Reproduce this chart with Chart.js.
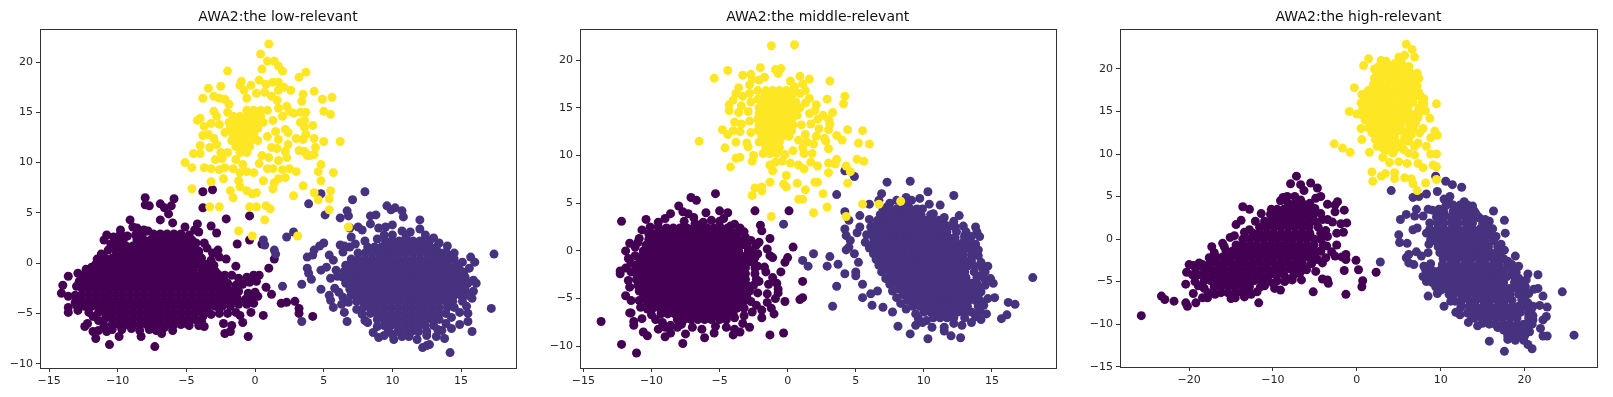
<!DOCTYPE html>
<html>
<head>
<meta charset="utf-8">
<title>AWA2</title>
<script src="https://cdn.jsdelivr.net/npm/chart.js@4/dist/chart.umd.min.js"></script>
<style>
  html, body { margin: 0; padding: 0; background: #fff; }
  .panel { position: absolute; top: 0; height: 397px; }
  canvas { filter: blur(0.35px); }
</style>
</head>
<body>
<div class="panel" style="left:0;width:530px"><canvas id="lowChart"></canvas></div>
<div class="panel" style="left:530px;width:530px"><canvas id="middleChart"></canvas></div>
<div class="panel" style="left:1060px;width:553px"><canvas id="highChart"></canvas></div>
<script>
const classColors = ["#fde725", "#46327e", "#440154"];

const lowXTicks = [-15, -10, -5, 0, 5, 10, 15];
const lowYTicks = [-10, -5, 0, 5, 10, 15, 20];
const middleXTicks = [-15, -10, -5, 0, 5, 10, 15];
const middleYTicks = [-10, -5, 0, 5, 10, 15, 20];
const highXTicks = [-20, -10, 0, 10, 20];
const highYTicks = [-15, -10, -5, 0, 5, 10, 15, 20];

// values are read off the picture. the solid blobs can't be told apart point by point,
// so those are estimated as rows: [y, x, x, x, ...]

// ---- low-relevant
const lowYellow = [[1,21.8],[.4,20.8],[.9,20.1],[1.4,20.1],[1.7,19.6],[2,19.1],[.5,19.3],[-2,19.1],[3.7,19],[3.2,18.5],[-3.4,17.4],[-2.5,17.6],[-3.8,16.4],[5.6,16.5],[4.3,17.1],[4.9,16.3],[5.5,14.8],[5,15.1],[-4.2,14.2],[-4,14.4],[-3.7,13.6],[-3.8,12.7],[-4,11.7],[-4.5,10.9],[-4,10.9],[-5.1,10],[-4.6,9.5],[6.2,12.1],[5,12.1],[4.8,9.8],[5.7,9],[4.6,9.1],[4.8,8.2],[3.5,7.7],[3,9.1],[5.5,7.2],[4.3,7],[2.8,6.7],[4.6,6.3],[5.4,6.4],[5.4,5.3],[-4.6,7.4],[-3.2,8.1],[-1.8,7.2],[-1.6,6.5],[-3.3,5.6],[-2.6,5.6],[-.4,5.6],[.1,5.6],[.8,5.7],[1.1,5.4],[.7,4.3],[-1.2,3.2],[-.2,2.7],[3.1,2.7],[6.8,3.6],
[-3,16.6],[-2.6,16.4],[-2.2,16.3],[-1.9,15.8],[-3,15.1],[-2.8,14.6],[-3.2,13.9],[-2.6,13.8],[-3.4,12.8],[-3,12.4],[-2.8,11.8],[-3.3,11.5],[-2.5,11],[-2.9,10.3],[-2.4,10.4],[-3.7,9.5],[-3.2,9.4],[-2.6,9.3],[-2.2,9.5],[-2.3,8.4],[-1.6,9.4],[-1.1,9],[-1.2,8.2],[-1.1,7.6],[-.6,7.2],[-.2,6.9],[.1,7],[-.6,9.1],[-.1,9],[.3,9.9],[.6,8.2],[.9,9.4],[1.3,9.4],[1.3,7.4],[1.4,8],[1.7,8.4],[2.2,8.5],[2,9.3],[2.5,9.4],[1.7,10.2],[2.3,10.5],[2.2,11.1],[1.6,11.4],[2.4,11.8],[3,12.4],[3.5,12.3],[3.2,11.2],[3.6,11.1],[3.8,10.7],[4,10.7],[4.3,10.8],[4.4,11.5],[4.3,12.4],[3.7,12.8],[4.2,13.7],[3.6,13.5],[3.3,14],[2.8,14.9],[3.3,15],[3.7,15],[3.6,14.2],[2.5,15.1],[2.3,15.6],[3.4,16.1],[3.5,16.8],[2.6,17.2],[2.1,17.5],[1.7,17.2],[1.7,18],[1.3,18],[.8,17.8],[.3,18.2],[-.3,17.7],[-.8,17.2],[-1.1,17.7],[-1,18.1],[.1,16.9],[.7,17],[1.2,16.6],[1.6,16.2],[-.6,16.4],[2,14.6],[2.2,13.3],[1.5,13.1],[1.7,12.3],[2.4,13],[-2,15],[-2.2,13],[-1.7,12.2],[-2,11],[-1.4,10.3],[-.9,9.8],[.5,10.7],[1,10.5],[1.2,11.5],[.9,12.6],[1.3,14.2],[1.7,15.4]];
const lowYellowRows = [
  [15.2, -.6,-.1,.4,.9],
  [14.6, -1.6,-1.1,-.6,-.1,.4],
  [14, -1.9,-1.4,-.9,-.4,.1,.6],
  [13.4, -1.8,-1.3,-.8,-.3,.2],
  [12.8, -1.6,-1.1,-.6,-.1],
  [12.2, -1.3,-.8,-.3,.2],
  [11.6, -1.4,-.9,-.4],
  [11, -1.1,-.6]
];
const lowBlue = [[17.4,.9],[17.2,-4.5],[14.2,-8.9],[12.2,-8.4],[12.5,-8.2],[12.7,-8.1],[15.8,-6.8],[15.5,-5.8],[15.5,-5],[14.9,-6.1],[16.1,-2],[15.9,-1.7],[16,.1],[15.7,.6],[14.5,1],[13.9,1.1],[13.4,2],[12.7,2.2],[12,3.4],[12,4.3],[10.8,4.6],[10.7,5.2],[10.2,5.5],[9.9,5.3],[9.6,5.7],[8.8,4.8],[8.4,4.7],[8.4,3.9],[8,7.1],[7.1,6.3],[6.7,5.2],[6.8,4.7],[6.2,4.5],[4.8,6.9],[3.9,5.9],[5.1,4.8],[6.9,3.5],[7.5,3.6],[7.8,3.3],[7,2.6],[9,3.5],[9.5,3.6],[10,3.8],[10.7,3.2],[11.3,3.1],[6.2,1.8],[6.5,1.7],[5,2],[4.7,1.7],[4.3,1.3],[4.2,.8],[3.8,.6],[5.4,.8],[5.7,.3],[5.2,-.4],[4.8,-.7],[3.8,-.5],[3.9,-1],[4.1,-1.6],[3.4,-2.1],[4.8,-2.6],[5.5,-1.5],[5.8,-2.5],[5.4,-3.2],[5.5,-3.7],[5.7,-4.4],[6.3,-4.1],[6.5,-4.9],[6.7,-5.8],[8,-5.7],[8.6,-6.9],[9,-7.4],[9.4,-7.2],[10.1,-7.6],[11.2,-7.3],[13.2,-7.3],[13.8,-7.5],[2,-2.3],[3.4,-5.8],[2.3,2.6],[2.8,3.1],[.6,2.3],[.7,1.8],[1.4,1.3],[1.5,.9],[14.8,-.5],[15.2,-.9],[14.3,-6.5],[13.6,-6.7],[11.8,-7.6],
[6.4,1.1],[6.9,1.6],[8,2.2],[8.9,2.4],[7.3,1.9],[5.9,-.7],[6,-1.3],[6.1,-2.9],[6.4,-3.4],[6.8,-3.9],[7.4,-4.6],[7.8,-5.1],[8.2,-5.9],[8.9,-6.3],[9.7,-6.7],[10,-7.1],[10.7,-7.3],[12.5,-7.2],[13.3,-6.6],[13.9,-6],[14.3,-5.4],[14.9,-4.9],[15.4,-4.3],[15.8,-3.5],[15.9,-2.8],[15.6,-.5],[15.1,.1],[14.4,.6],[14,1.7],[13,2.5],[12.4,2.8],[11,2.7],[10,2.8],[9.4,2.8]];
const lowBlueRows = [
  [2.2, 9.5,10,10.5,11,11.5,12,12.5],
  [1.6, 8.2,8.7,9.2,9.7,10.2,10.7,11.2,11.7,12.2,12.7,13.2],
  [1, 7.5,8,8.5,9,9.5,10,10.5,11,11.5,12,12.5,13,13.5,13.9],
  [.4, 7,7.5,8,8.5,9,9.5,10,10.5,11,11.5,12,12.5,13,13.5,14,14.5],
  [-.2, 6.6,7.1,7.6,8.1,8.6,9.1,9.6,10.1,10.6,11.1,11.6,12.1,12.6,13.1,13.6,14.1,14.7],
  [-.8, 6.5,7,7.5,8,8.5,9,9.5,10,10.5,11,11.5,12,12.5,13,13.5,14,14.5,15],
  [-1.4, 6.4,6.9,7.4,7.9,8.4,8.9,9.4,9.9,10.4,10.9,11.4,11.9,12.4,12.9,13.4,13.9,14.4,14.9,15.3],
  [-2, 6.6,7.1,7.6,8.1,8.6,9.1,9.6,10.1,10.6,11.1,11.6,12.1,12.6,13.1,13.6,14.1,14.6,15.1,15.5],
  [-2.6, 6.9,7.4,7.9,8.4,8.9,9.4,9.9,10.4,10.9,11.4,11.9,12.4,12.9,13.4,13.9,14.4,14.9,15.3],
  [-3.2, 7,7.5,8,8.5,9,9.5,10,10.5,11,11.5,12,12.5,13,13.5,14,14.5,15,15.5],
  [-3.8, 7.4,7.9,8.4,8.9,9.4,9.9,10.4,10.9,11.4,11.9,12.4,12.9,13.4,13.9,14.4,15.1],
  [-4.4, 7.9,8.4,8.9,9.4,9.9,10.4,10.9,11.4,11.9,12.4,12.9,13.4,14,14.5],
  [-5, 8.4,8.9,9.4,9.9,10.4,10.9,11.4,11.9,12.4,12.9,13.4,13.9],
  [-5.6, 8.9,9.4,9.9,10.4,10.9,11.4,11.9,12.4,12.9,13.4],
  [-6.2, 9.4,9.9,10.4,10.9,11.4,11.9,12.4,13],
  [-6.8, 10.4,10.9,11.4,11.9,12.5]
];
const lowDark = [[-8,6.5],[-8,5.8],[-7.7,5.7],[-6.9,5.9],[-6.6,5.5],[-6.1,5.7],[-5.9,6.4],[-6.3,4.9],[-6.9,4.3],[-6,4],[-9.1,4.3],[-3.8,7.1],[-3.1,7.3],[-3.8,5.5],[-2.1,4.4],[-.4,4.7],[-3.2,3.7],[-4.2,3.9],[-2.8,3],[-.4,2.3],[-1.3,1.9],[.5,1.9],[1.4,.4],[1,-.5],[-2.1,.4],[-1.4,-.3],[.8,-2.4],[1.2,-3.1],[1.9,-4],[2.3,-3.9],[2.9,-3.8],[3.2,-4.5],[3.2,-5],[4.2,-5.3],[.6,-5.2],[-.3,-4.9],[-.9,-5.9],[-.5,-7.3],[-1.7,-6.2],[-2.2,-7],[-1.8,-6.8],[-2.3,-6],[-3.7,-6.3],[-4.1,-6.2],[-7.3,-8.3],[-10.6,-8.1],[-11.6,-7.5],[-9.9,-7.3],[-8.3,-7.3],[-6.8,-7],[-6,-6.7],[-10.8,-6.8],[-11.4,-6.7],[-11.8,-6.8],[-12.4,-6.3],[-12.2,-6],[-13.6,-4.9],[-13.6,-4.4],[-13,-4.2],[-14.1,-3],[-14,-2.2],[-13,-2.3],[-13.6,-1.3],[-12.9,-1],[-13.6,-3.3],[-13.1,-3.2],[-11.5,.4],[-11.9,-.4],[-11,2.3],[-10.8,2.8],[-10.3,2.6],[-9.8,3.3],[-9.8,2.9],[-8.9,3.6],[-8.1,3.3],[-8.6,3.5],[-5.1,3.6],[-4.4,3.3],[-4.1,3.1],[-3.7,2],[-4.3,2],[-3.1,1],[-2.7,1.3],
[-2.7,-1.1],[-2.2,-1.2],[-1.7,-1.2],[-1.2,-1.5],[-.6,-1.4],[-.1,-1.2],[.3,-1.2],[-2.6,-1.9],[-2,-2],[-1.4,-2.2],[-.9,-2.1],[-.4,-1.9],[.1,-1.8],[-2.3,-2.7],[-1.7,-2.8],[-1.2,-2.8],[-.5,-3],[0,-2.9],[-2.5,-3.4],[-2,-3.5],[-1.3,-3.5],[-.7,-3.6],[-.2,-3.4],[.2,-3.3],[-2.4,-4.2],[-1.8,-4.3],[-1.2,-4.1],[-.6,-4.1],[-.1,-4],[-2.6,-5],[-2,-5],[-1.4,-4.9],[-1.1,-5.2],[-3.2,-5.1],[-3.8,-5.3],[-4.4,-5.6],
[-10.7,1.3],[-11.2,.9],[-10.5,1.9],[-9.3,2.7],[-8.7,2.8],[-8.2,2.9],[-7.8,3.2],[-4.8,2.8],[-4.1,1.2],[-3.5,1.5],[-3.2,.3],[-3,-.2],[-2.6,.6],[-2.9,-.8],[-12.3,-.6],[-12.5,-1.2],[-12.8,-1.8],[-13.1,-3.9],[-12.9,-4.7],[-12.1,-4.9],[-11.8,-5.3],[-11.4,-5.7],[-11,-6.2],[-10.4,-6.6],[-9.7,-6.6],[-9,-6.5],[-8.4,-6.7],[-7.7,-6.6],[-7.2,-6.7],[-6.6,-6.4],[-5,-6],[-4.8,-6.2],[-3.9,-5.8]];
const lowDarkRows = [
  [2.9, -7.4,-6.9,-6.4,-5.9,-5.4],
  [2.3, -10.1,-9.6,-8.6,-8.1,-7.6,-7.1,-6.6,-6.1,-5.6,-5.1,-4.6],
  [1.7, -10.4,-9.9,-9.4,-8.9,-8.4,-7.9,-7.4,-6.9,-6.4,-5.9,-5.4,-4.9,-4.4],
  [1.1, -10.1,-9.6,-9.1,-8.6,-8.1,-7.6,-7.1,-6.6,-6.1,-5.6,-5.1,-4.6,-4.1],
  [.5, -10.9,-10.4,-9.9,-9.4,-8.9,-8.4,-7.9,-7.4,-6.9,-6.4,-5.9,-5.4,-4.9,-4.4,-3.9],
  [-.1, -11.6,-11.1,-10.6,-10.1,-9.6,-9.1,-8.6,-8.1,-7.6,-7.1,-6.6,-6.1,-5.6,-5.1,-4.6,-4.1,-3.6],
  [-.7, -12,-11.5,-11,-10.5,-10,-9.5,-9,-8.5,-8,-7.5,-7,-6.5,-6,-5.5,-5,-4.5,-3.9,-3.4],
  [-1.3, -12.1,-11.6,-11.1,-10.6,-10.1,-9.6,-9.1,-8.6,-8.1,-7.6,-7.1,-6.6,-6.1,-5.6,-5.1,-4.6,-4.1,-3.6,-3.2,-2.9],
  [-1.9, -12.4,-11.9,-11.4,-10.9,-10.4,-9.9,-9.4,-8.9,-8.4,-7.9,-7.4,-6.9,-6.4,-5.9,-5.4,-4.9,-4.4,-3.9,-3.4,-2.9,-2.4],
  [-2.5, -12.6,-12.1,-11.6,-11.1,-10.6,-10.1,-9.6,-9.1,-8.6,-8.1,-7.6,-7.1,-6.6,-6.1,-5.6,-5.1,-4.6,-4.1,-3.6,-3.1,-2.6,-2],
  [-3.1, -12.6,-12.1,-11.6,-11.1,-10.6,-10.1,-9.6,-9.1,-8.6,-8.1,-7.6,-7.1,-6.6,-6.1,-5.6,-5.1,-4.6,-4.1,-3.6,-3.1,-2.6,-2.1,-1.6],
  [-3.7, -12.6,-12.1,-11.6,-11.1,-10.6,-10.1,-9.6,-9.1,-8.6,-8.1,-7.6,-7.1,-6.6,-6.1,-5.6,-5.1,-4.6,-4.1,-3.6,-3.1,-2.6,-2.1,-1.6],
  [-4.3, -12.4,-11.9,-11.4,-10.9,-10.4,-9.9,-9.4,-8.9,-8.4,-7.9,-7.4,-6.9,-6.4,-5.9,-5.4,-4.9,-4.4,-3.9,-3.4,-2.9,-2.4],
  [-4.9, -11.4,-10.9,-10.4,-9.9,-9.4,-8.9,-8.4,-7.9,-7.4,-6.9,-6.4,-5.9,-5.4,-4.9,-4.4,-3.9,-3.4],
  [-5.5, -10.9,-10.4,-9.9,-9.4,-8.9,-8.4,-7.9,-7.4,-6.9,-6.4,-5.9,-5.4,-4.9,-4.4],
  [-6.1, -10.4,-9.9,-9.4,-8.9,-8.4,-7.9,-7.4,-6.9,-6.4,-5.9,-5.4]
];

// ---- middle-relevant
const middleYellow = [[-1.2,21.5],[.5,21.6],[-4.4,18.9],[-5.4,18.1],[-3.3,18.4],[-2.7,18.5],[-2,19.2],[-.9,19],[-.5,19.1],[-.7,18.6],[.9,18.3],[1.6,18],[3.1,17.8],[2.9,15.9],[4.2,16.2],[4.1,15.4],[3.3,14.5],[2.1,15.3],[4.4,12.7],[5.5,12.6],[5.2,11.3],[6,11.2],[4,11.6],[3.6,12.1],[5.1,9.6],[5.6,9.4],[3.6,9.6],[3.5,9.1],[3,9.2],[3,8.2],[4.3,8.9],[4.6,8.3],[4.4,7.1],[-6.5,11.5],[-4.8,12.7],[-4.6,10.8],[-4.4,12.2],[-4.2,8.8],[-3.8,9.7],[-3.5,9.8],[-3.8,11.4],[-2.6,9.4],[-2.5,10],[-2.4,6.6],[-1.9,6.7],[-2.6,5.8],[-1.9,6.3],[-1.3,7.2],[-.3,7],[-.1,6.7],[-.1,7.9],[.7,7.1],[2,7.2],[2.2,7.2],[1.3,6.4],[2.6,6],[.8,5.4],[1.1,5.4],[1.9,4],[2.9,4.6],[-1.2,3.6],[5.5,4.9],[6.7,4.9],[4.3,3.6],[8.3,5.2],
[-3.8,16.5],[-4,15.8],[-4.3,15.3],[-4.3,14.7],[-3.6,17.1],[-3.3,16.2],[-3.4,15.2],[-3.6,14.5],[-3.9,13.5],[-3.4,13.3],[-4,12.6],[-3.5,12.5],[-2.8,17.4],[-2.8,16.5],[-2.7,15.6],[-2.9,14.6],[-2.8,13.6],[-2.7,12.4],[-3,11.3],[-2.9,10.9],[-2.6,18],[-2.1,17.9],[-1.7,18.2],[-2.2,16.8],[-2.2,15.9],[.2,17.8],[.5,17.2],[1.1,17.5],[1.3,16.8],[.9,16.5],[1.6,16],[1.3,15.5],[2,14.7],[2.6,14.2],[3,13.8],[3.1,13.3],[2.2,13.8],[1.7,13.3],[2.3,12.8],[3,12.7],[1.3,12.2],[2.1,12],[2.7,11.8],[3,10.7],[2.8,11.5],[1.9,11.2],[1.4,11.4],[1.1,10.8],[1.8,10.2],[1.2,10.2],[1.7,9.3],[2.2,8.9],[1.2,8.6],[.8,9],[.2,9.2],[-.4,9.4],[-.9,9.3],[-1.3,9],[-1.1,8.4],[-.2,10.1],[.4,10.5],[.8,11.6],[1,13.2],[1.6,14.4],[.7,14.2],[.9,15]];
const middleYellowRows = [
  [16.8, -1.6,-1.1,-.6,-.1,.4],
  [16.2, -1.7,-1.2,-.7,-.2,.3],
  [15.6, -1.9,-1.4,-.9,-.4,.1,.6],
  [15, -2.1,-1.6,-1.1,-.6,-.1,.4],
  [14.4, -2.1,-1.6,-1.1,-.6,-.1,.4],
  [13.8, -2.2,-1.7,-1.2,-.7,-.2,.3],
  [13.2, -2.1,-1.6,-1.1,-.6,-.1,.4],
  [12.6, -2.2,-1.7,-1.2,-.7,-.2,.3],
  [12, -1.9,-1.4,-.9,-.4,.1],
  [11.4, -2.1,-1.6,-1.1,-.6],
  [10.8, -1.6,-1.1,-.6],
  [10.2, -1.8,-1.3,-.8]
];
const middleBlue = [[18,-2.8],[16.7,-5.6],[16.2,-5.4],[16.1,-6.7],[15.7,-7.1],[15.2,-4.9],[15.1,-3.4],[14.7,-1.6],[14.9,-2.9],[14.2,-2.6],[12.7,-9.1],[12,-8.9],[11.5,-8.4],[10.3,-9.2],[9,-8.7],[8.1,-7.9],[7.7,-6.4],[7,-5.9],[6.2,-5.7],[5.5,-4.9],[3.3,-5.8],[3.6,-3.7],[4.2,-2.4],[3.7,-1.4],[2.9,-1.6],[3.1,-.6],[1.5,-1.6],[1.1,-1],[1.9,-.3],[-.3,2.8],[3.6,5.9],[4.2,8.4],[4.9,7.8],[7.3,7.2],[9,7.3],[10.3,6.2],[12.2,5.8],[6.9,6],[6.7,5.3],[6,4.9],[4.2,4.1],[4.5,3.2],[5.3,3.7],[5.3,2.5],[5.1,1.9],[4.2,2.3],[4.3,1.6],[4.6,1.1],[4.5,.4],[4.3,.1],[4.9,-.3],[5.2,-1.2],[5,-2.2],[5,-2.6],[5.5,-3.5],[6.1,-4.5],[6.6,-4.2],[7.3,4.6],[8,5.3],[8.7,5.6],[9.1,5.3],[9.7,5.5],[10.4,4.9],[11.2,4.8],[10.7,3.9],[11.5,3.5],[12.6,3.7],[12.3,2.5],[13.1,2],[13.8,2.5],[13.9,2],[14.1,1.5],[13.3,1.1],[13.8,.7],[14.5,-3.6],[14.2,-4.3],[14.7,-5],[14.4,-5.7],[14.1,-6.3],[14.6,-6.6],[13.8,-6.9],[14.2,-7.2],[13.5,-7.5],[12.8,-7.8],[12.2,-7.6],[11.5,-8],[10.6,-8],[9.9,-7.5],[9.4,-7.8],
[7.5,5],[8.8,4.9],[9.4,4.3],[9.9,4.4],[10.6,3.3],[11.5,2.8],[12.2,3.1],[12.9,2.6],[13,1.6],[13.5,1.5],[14,.1],[14,-.5],[14.2,-1.2],[14.3,-1.8],[14.5,-2.2],[14.5,-3],[6,3.3],[6.1,2.5],[5.8,1.7],[5.7,.9],[6,.3],[6.3,-.3],[6.5,-.9],[6.7,-1.5],[6.9,-2.2],[7.2,-2.9],[7.5,-3.5],[7.7,-4.2],[8,-4.9],[8.3,-5.5],[8.7,-6.1],[9.4,-6.6],[9.6,-7.1],[10.2,-7.3]];
const middleBlueRows = [
  [4.4, 7,7.5,8,8.5,9,9.5],
  [3.8, 6.8,7.3,7.8,8.3,8.8,9.3,9.8,10.5],
  [3.2, 6.6,7.1,7.6,8.1,8.6,9.1,9.6,10.1,10.6,11.1],
  [2.6, 6.4,6.9,7.4,7.9,8.4,8.9,9.4,9.9,10.4,10.9,11.4,11.9],
  [2, 6.2,6.7,7.2,7.7,8.2,8.7,9.2,9.7,10.2,10.7,11.2,11.7,12.4],
  [1.4, 6.3,6.8,7.3,7.8,8.3,8.8,9.3,9.8,10.3,10.8,11.3,11.8,12.3,13],
  [.8, 6.3,6.8,7.3,7.8,8.3,8.8,9.3,9.8,10.3,10.8,11.3,11.8,12.3,12.8,13.3],
  [.2, 6.5,7,7.5,8,8.5,9,9.5,10,10.5,11,11.5,12,12.5,13,13.5],
  [-.4, 6.9,7.4,7.9,8.4,8.9,9.4,9.9,10.4,10.9,11.4,11.9,12.4,12.9,13.5],
  [-1, 7,7.5,8,8.5,9,9.5,10,10.5,11,11.5,12,12.5,13,13.5],
  [-1.6, 7.2,7.7,8.2,8.7,9.2,9.7,10.2,10.7,11.2,11.7,12.2,12.7,13.2,13.7],
  [-2.2, 7.5,8,8.5,9,9.5,10,10.5,11,11.5,12,12.5,13,13.7],
  [-2.8, 7.6,8.1,8.6,9.1,9.6,10.1,10.6,11.1,11.6,12.1,12.6,13.1,13.9],
  [-3.4, 8,8.5,9,9.5,10,10.5,11,11.5,12,12.5,13,13.5,13.9],
  [-4, 8.2,8.7,9.2,9.7,10.2,10.7,11.2,11.7,12.2,12.7,13.2,13.7,14],
  [-4.6, 8.5,9,9.5,10,10.5,11,11.5,12,12.5,13,13.5,14],
  [-5.2, 8.8,9.3,9.8,10.3,10.8,11.3,11.8,12.3,12.8,13.3,13.8,14.1],
  [-5.8, 9.2,9.7,10.2,10.7,11.2,11.7,12.2,12.7,13.2,14],
  [-6.4, 10,10.5,11,11.5,12,12.5,13,13.5],
  [-7, 10.7,11.2,11.7,12.2,13]
];
const middleDark = [[-7.1,5.6],[-6.7,5.3],[-5.3,6],[-8,4.7],[-7.7,4.1],[-7.3,3.9],[-6.9,3.5],[-6,4],[-5,4.2],[-4.4,4],[-4.7,3.4],[-3.9,2.8],[-3.5,2.4],[-2.4,4.2],[.1,4.2],[-2,2.7],[-1.9,2.1],[-3.1,1.4],[-2.3,.6],[-2.1,.9],[-1.3,1.3],[-1.5,.2],[-1.3,-.5],[-1.1,-.7],[.4,.4],[0,-.7],[-.2,-1.2],[-.5,-2.2],[-1.7,-1.7],[-2.2,-.3],[1.1,-3.2],[.9,-5.1],[1.1,-4.9],[-.2,-5.3],[-.7,-4.4],[-1,-6.6],[-1.9,-7],[-2.8,-8],[-3.5,-8.5],[-4,-8.8],[-1.3,-8.8],[-.3,-8.6],[-6.1,-9.1],[-5.4,-8.6],[-7.5,-8.7],[-7.7,-9.7],[-9,-9],[-8.6,-8.6],[-10.3,-8.9],[-10.6,-8.5],[-11.1,-10.7],[-12.2,-9.8],[-13.7,-7.4],[-11.3,-7.8],[-11.3,-7.4],[-11.6,-6.5],[-10.7,-7.1],[-9.5,-8.2],[-12.2,3.1],[-10.4,3.3],[-9.5,3],[-9,3.4],[-8.6,3.9],[-11.6,.8],[-11.9,0],[-11.2,.4],[-11.7,-.8],[-12.3,-2.1],[-12.3,-2.4],[-11.5,-2.2],[-11.9,-4.7],[-11.5,-5.2],[-11.5,-6.5],
[-2.2,-1.6],[-1.6,-2.2],[-1.1,-2.8],[-.8,-3.4],[-1.4,-3.5],[-2.1,-3.2],[-.7,-4],[-1.5,-4.5],[-2.2,-4.4],[-.9,-5],[-1.5,-5.4],[-2.3,-5.7],[-1.2,-6],[-1.9,-6.2],[-2.6,-6.4],[-3.2,-6.8],[-3.9,-7],[-4.5,-8],[-3.3,-7.6],[-3.9,-8.2],[-5.3,-7.9],[-6.3,-8.2],[-7,-8],[-8.1,-8],[-9,-8],
[-10.9,1.3],[-10.7,2.2],[-10.1,2.5],[-9.5,2.5],[-11,.9],[-11.2,-.5],[-11.5,-1.3],[-11.9,-1.8],[-11.7,-3.1],[-11.6,-3.8],[-10.9,-5.2],[-10.8,-5.9],[-10.3,-6.1],[-10,-6.7],[-9.7,-7.2],[-9.2,-7.5],[-8.6,-7.8],[-7.8,-7.7],[-4.5,-7.2],[-4,-6.6],[-3.2,-6],[-2.7,-5.3],[-3.9,-5.8],[-3.2,2],[-3.8,1.9],[-2.7,1.1],[-2.6,.1],[-2.4,-.7],[-4.2,2.6],[-5,3.1],[-5.6,3.2],[-6.2,3],[-6.8,2.9],[-7.6,3.1]];
const middleDarkRows = [
  [2.4, -8.9,-8.4,-7.9,-7.4,-6.9,-6.4,-5.9,-5.4,-4.9,-4.4],
  [1.8, -10.2,-9.7,-9.2,-8.7,-8.2,-7.7,-7.2,-6.7,-6.2,-5.7,-5.2,-4.7,-4.2,-3.7],
  [1.2, -10.2,-9.7,-9.2,-8.7,-8.2,-7.7,-7.2,-6.7,-6.2,-5.7,-5.2,-4.7,-4.2,-3.7,-3.2],
  [.6, -10.4,-9.9,-9.4,-8.9,-8.4,-7.9,-7.4,-6.9,-6.4,-5.9,-5.4,-4.9,-4.4,-3.9,-3.4,-3],
  [0, -10.6,-10.1,-9.6,-9.1,-8.6,-8.1,-7.6,-7.1,-6.6,-6.1,-5.6,-5.1,-4.6,-4.1,-3.6,-2.9],
  [-.6, -10.7,-10.2,-9.7,-9.2,-8.7,-8.2,-7.7,-7.2,-6.7,-6.2,-5.7,-5.2,-4.7,-4.2,-3.7,-3.2,-2.7],
  [-1.2, -10.9,-10.4,-9.9,-9.4,-8.9,-8.4,-7.9,-7.4,-6.9,-6.4,-5.9,-5.4,-4.9,-4.4,-3.9,-3.4,-2.9,-2.5],
  [-1.8, -11.1,-10.6,-10.1,-9.6,-9.1,-8.6,-8.1,-7.6,-7.1,-6.6,-6.1,-5.6,-5.1,-4.6,-4.1,-3.6,-3.1,-2.4],
  [-2.4, -11.1,-10.6,-10.1,-9.6,-9.1,-8.6,-8.1,-7.6,-7.1,-6.6,-6.1,-5.6,-5.1,-4.6,-4.1,-3.6,-3.1,-2.4],
  [-3, -11.1,-10.6,-10.1,-9.6,-9.1,-8.6,-8.1,-7.6,-7.1,-6.6,-6.1,-5.6,-5.1,-4.6,-4.1,-3.6,-3.1,-2.3],
  [-3.6, -11,-10.5,-10,-9.5,-9,-8.5,-8,-7.5,-7,-6.5,-6,-5.5,-5,-4.5,-4,-3.5,-3,-2.5],
  [-4.2, -10.9,-10.4,-9.9,-9.4,-8.9,-8.4,-7.9,-7.4,-6.9,-6.4,-5.9,-5.4,-4.9,-4.4,-3.9,-3.4,-2.8],
  [-4.8, -10.6,-10.1,-9.6,-9.1,-8.6,-8.1,-7.6,-7.1,-6.6,-6.1,-5.6,-5.1,-4.6,-4.1,-3.6,-3],
  [-5.4, -10.3,-9.8,-9.3,-8.8,-8.3,-7.8,-7.3,-6.8,-6.3,-5.8,-5.3,-4.8,-4.3,-3.8,-3.3],
  [-6, -9.9,-9.4,-8.9,-8.4,-7.9,-7.4,-6.9,-6.4,-5.9,-5.4,-4.9,-4.4,-3.7],
  [-6.6, -9.3,-8.8,-8.3,-7.8,-7.3,-6.8,-6.3,-5.8,-5.3,-4.8,-4.4],
  [-7.2, -8.1,-7.6,-7.1,-6.6,-6.1,-5.6,-5]
];

// ---- high-relevant
const highYellow = [[5.9,22.9],[6.6,22.3],[6.9,21.4],[5.7,21.6],[5,21.4],[1.4,21.2],[.8,20.4],[2.9,21],[6.2,20.3],[7.2,19.5],[7.4,18.9],[-.3,17.8],[-.9,15],[0,14.7],[.6,14.6],[.5,13],[.6,11.7],[-2.7,11.2],[-1.7,10.7],[-.8,10.2],[1.5,10.2],[9.5,15.9],[8.2,15.1],[8.7,14.2],[7.9,13],[9.3,12.7],[9.6,12.2],[8.8,11.9],[7.5,12.5],[8.3,10.9],[9.5,10],[8.8,10],[7.3,11.3],[6.9,9.9],[9.1,8.7],[9.5,8.5],[7.9,8.4],[7.3,8.9],[6,8.9],[5,9.1],[3.9,9],[3.1,9.6],[1.8,7.9],[1.9,6.8],[2.9,7.4],[3.4,7.7],[4.5,7.8],[4.5,7.1],[5.7,7.2],[6.5,7.1],[6.7,6.5],[8.2,6.6],[7.2,5.7],[9.5,7],[2.4,10.9],[3.1,10.7],[4.3,10.1],[5.6,10.5],[6.9,10.9],[6.2,11.5],
[2.1,20],[2.6,20.3],[3.5,20.9],[4.5,20.6],[5.3,20.8],[6.3,19.6],[6.8,19],[7.2,18],[7.4,17.2],[8,16.5],[8,15.9],[7.6,15],[7.3,14.3],[7,13.6],[6.7,13],[6.5,12.3],[1,17.1],[.6,17],[.5,16],[.7,15.3],[1,14],[1.4,13.1],[1.8,12.5],[2.2,11.7],[2.6,11.1],[3.4,10.4],[4.8,10.8],[5.4,11.3],[6.2,10.1]];
const highYellowRows = [
  [20.3, 3,3.9,4.7,5.5],
  [19.6, 2.4,3.2,4,4.9,5.9],
  [18.9, 2.1,2.9,3.8,4.6,5.5,6.5],
  [18.2, 2,2.8,3.7,4.5,5.4,6.2,6.8],
  [17.5, 1.4,2.3,3.1,4,4.8,5.7,6.5,7],
  [16.8, .9,1.8,2.6,3.5,4.3,5.2,6,6.9,7.6],
  [16.1, .7,1.6,2.4,3.3,4.1,5,5.8,6.7,7.8],
  [15.4, 1,1.9,2.7,3.6,4.4,5.3,6.1,7.4],
  [14.7, 1.3,2.1,3,3.8,4.7,5.5,6.3,7],
  [14, 1.4,2.3,3.1,4,4.8,5.7,6.7],
  [13.3, 1.8,2.6,3.5,4.3,5.2,6.3],
  [12.6, 2.2,3,3.9,4.7,5.5,6.1],
  [11.9, 2.8,3.6,4.5,5.7],
  [11.2, 3.2,4.1,5],
  [10.5, 3.8,4.5]
];
const highBlue = [[25.9,-11.3],[24.5,-6.2],[22.7,-11.4],[22.2,-11.4],[21.9,-10.5],[22.2,-9.5],[22.6,-9.1],[22.7,-8],[21.8,-7.8],[22.2,-6.7],[21.6,-5.8],[21.1,-5.9],[21.6,-4.2],[20.4,-4.1],[20.2,-4.8],[20.5,-6.4],[18.9,-2],[19.3,-3.2],[17.6,-13.2],[20.9,-12.9],[20.4,-12.4],[20,-11.4],[18,-11.8],[15.8,-12],[16.8,-10.4],[14.4,-10.2],[13.3,-9.8],[12.3,-8.9],[11.8,-8.6],[10.4,-7.9],[11.2,-7.3],[8.5,-6.7],[9.6,-6.4],[17.6,2.2],[16.3,3.3],[17.7,.7],[15.8,2.1],[12.5,6.1],[11.4,6.4],[10.6,6.8],[9.4,7.4],[9.6,5.6],[4.1,5.7],[8.3,5.3],[7.4,5],[6.7,4.9],[10.9,4.6],[10.4,4.7],[11.1,5],[7.1,3.5],[5.9,2.9],[5.2,2.3],[6.9,2.7],[8.5,3.5],[9.6,3.3],[10.4,3.1],[5,.5],[5.1,-.4],[6.7,1.1],[7.2,1.3],[6,-.5],[7.1,-1.5],[6.2,-1.8],[5.9,-2.2],[6.2,-2.8],[6.8,-3],[7.7,-2],[8.3,.7],[7.9,2.7],[2.8,-2.7],[12.8,4.4],[13.8,3.9],[14.2,3],[15.3,2.3],[18.7,-10.7],[21,-9.5],[20.5,-8.9],[21,-7.9],[19.7,-7.1],[20.1,-5.6],[8.2,-3.6],[8.8,-2.9],[8.5,-1.6],[8.6,-.6],
[9,3.4],[9.8,3.5],[10.6,3.9],[11,4.2],[13.2,4],[14.6,2.5],[15.5,1.6],[16.2,1.2],[16.6,.3],[17.2,-.6],[17.6,-1.3],[18,-2.6],[18.5,-3],[19,-3.9],[19.3,-4.6],[19.5,-5.4],[19.7,-6],[20,-6.8],[20.4,-7.5],[20.8,-8.3],[21,-9],[20.9,-10],[20.6,-10.9],[19.9,-11.9],[18.9,-11.9],[17.9,-10.9],[15.8,-10],[15,-9.9],[13.7,-9.2],[13.2,-8.7],[12.4,-8],[11.7,-7.3],[11,-6.5],[10,-6],[9.4,-5.6],[8.3,-5],[7.9,-4.4],[8,-3.2],[8.8,-.1],[9.1,.2]];
const highBlueRows = [
  [4, 11.5,12.3,13],
  [3.3, 11.5,12.3,13.2,14],
  [2.6, 9.5,10.3,11.2,12,12.9,13.7,14.5],
  [1.9, 8.7,9.6,10.4,11.3,12.1,13,13.8,15],
  [1.2, 8.7,9.6,10.4,11.3,12.1,13,13.8,14.7,15.3],
  [.5, 9,9.9,10.7,11.6,12.4,13.3,14.1,15,15.8],
  [-.2, 9.3,10.2,11,11.9,12.7,13.6,14.4,15.3,16.3],
  [-.9, 9.7,10.6,11.4,12.3,13.1,14,14.8,15.7,16.8],
  [-1.6, 9.9,10.8,11.6,12.5,13.3,14.2,15,15.9,16.6,17.1],
  [-2.3, 10.3,11.2,12,12.9,13.7,14.6,15.4,16.3,17,17.5],
  [-3, 10.2,11.1,11.9,12.8,13.6,14.5,15.3,16.2,17,18],
  [-3.7, 9,9.9,10.7,11.6,12.4,13.3,14.1,15,15.8,16.7,17.5,18.5],
  [-4.4, 8.5,9.4,10.2,11.1,11.9,12.8,13.6,14.5,15.3,16.2,17,17.9,18.8],
  [-5.1, 9,9.9,10.7,11.6,12.4,13.3,14.1,15,15.8,16.7,17.5,18.8],
  [-5.8, 10.5,11.4,12.2,13.1,13.9,14.8,15.6,16.5,17.3,18.2,19],
  [-6.5, 11.5,12.4,13.2,14.1,14.9,15.8,16.6,17.5,18.3,19.3],
  [-7.2, 12.5,13.4,14.2,15.1,15.9,16.8,17.6,18.5,19.7],
  [-7.9, 12.5,13.4,14.2,15.1,15.9,16.8,17.6,18.5,19.3,20],
  [-8.6, 13.5,14.4,15.2,16.1,16.9,17.8,18.6,19.5,20.5],
  [-9.3, 14,14.9,15.7,16.6,17.4,18.3,19.1,20.5],
  [-10, 16.5,17.4,18.2,19.1,19.9,20.5],
  [-10.7, 17.5,18.4,19.2,20],
  [-11.4, 18,18.8,19.5]
];
const highDark = [[-25.7,-9],[-23.3,-6.7],[-22.9,-7.1],[-21.8,-7.3],[-20.4,-7.5],[-20.2,-7.9],[-19.2,-7.5],[-18.4,-6.9],[-17.8,-6.9],[-19.5,-6.4],[-20.4,-5.3],[-20.3,-3.9],[-20,-3],[-19.5,-3.1],[-18.8,-2.8],[-17.3,-.9],[-16,-.5],[-15.1,.2],[-14.4,1.7],[-13.8,2.2],[-13.6,3.8],[-12.8,3.5],[-11.4,3],[-12.1,2.1],[-10.2,3.5],[-9.1,4.5],[-7.9,6.5],[-7.2,7.4],[-6.7,6.4],[-6.3,5.7],[-5.5,6.6],[-4.7,6],[-4.3,5],[-4.9,4.8],[-5.6,4.2],[-3.5,4.1],[-2.6,4],[-2.3,4.4],[-2.6,3.2],[-1.5,3.4],[-3.5,2.3],[-2.9,2],[-1.2,1.9],[-1.9,1.8],[-1.6,.8],[-2.4,.7],[-2.4,-.7],[-3,-1.5],[-2.6,-2],[-1.3,-1.8],[-1.3,-2.4],[-1.8,-2.1],[-.1,-2.5],[.2,-3.6],[-1.5,-3.7],[2.3,-3.9],[.7,-4.9],[.6,-5.6],[-1.3,-6.5],[-5.2,-6.2],[-11.7,-7.5],[-15,-7],[-9.1,-6],[-9.8,-5.8],[-11.9,-6.2],[-6.6,-4.8],[-7.7,-4.8],[-4.1,-4.7],[-3.4,-5.2],[-3.5,-4.8],[-4.9,-3.8],[-6,-3.6],[-6.8,-4],[-4.1,-2.8],[-4.7,-2.4],[-3.7,-2.2],[-5.1,-1.6],
[-19.2,-3.4],[-19.6,-4.2],[-19.3,-5],[-18.9,-5.5],[-18.2,-5.8],[-17.7,-6.3],[-16.9,-6.5],[-14.5,-6.9],[-13.4,-6.8],[-12.6,-6.5],[-11,-5.5],[-10,-5.2],[-8.6,-5],[-8.2,-4.7],[-7.3,-3.9],[-6.5,-3],[-5.4,-2.9],[-4.3,-1.4],[-3.6,-.8],[-3.5,.3],[-3.7,1],[-4.1,2.3],[-4.3,3],[-5,3.6],[-6.7,4.6],[-7.4,5],[-8.3,5],[-8.8,4.9],[-10.3,2.9],[-12.8,1.1],[-13.4,.8],[-14.6,.4],[-15.8,-.9],[-17,-1.6],[-17.6,-2.2],[-18.4,-3]];
const highDarkRows = [
  [4.2, -8.2,-7.4,-6.5],
  [3.5, -9.5,-8.7,-7.8,-7,-6.1,-5.5],
  [2.8, -9.9,-9.1,-8.2,-7.4,-6.5,-5.7,-5.2],
  [2.1, -11,-10.2,-9.3,-8.5,-7.6,-6.8,-5.9,-5],
  [1.4, -11.6,-10.8,-9.9,-9.1,-8.2,-7.4,-6.5,-5.7,-4.6],
  [.7, -12.4,-11.6,-10.7,-9.9,-9,-8.2,-7.3,-6.5,-5.6,-4.3],
  [0, -13.6,-12.8,-11.9,-11.1,-10.2,-9.4,-8.5,-7.7,-6.8,-6,-5.1,-4.3],
  [-.7, -14.4,-13.6,-12.7,-11.9,-11,-10.2,-9.3,-8.5,-7.6,-6.8,-5.9,-5.1,-4],
  [-1.4, -15.6,-14.8,-13.9,-13.1,-12.2,-11.4,-10.5,-9.7,-8.8,-8,-7.1,-6.3,-5.4,-4.3],
  [-2.1, -16.8,-16,-15.1,-14.3,-13.4,-12.6,-11.7,-10.9,-10,-9.2,-8.3,-7.5,-6.6,-5.8,-5],
  [-2.8, -17.5,-16.7,-15.8,-15,-14.1,-13.3,-12.4,-11.6,-10.7,-9.9,-9,-8.2,-7.3,-6.5,-5.4],
  [-3.5, -18.2,-17.4,-16.5,-15.7,-14.8,-14,-13.1,-12.3,-11.4,-10.6,-9.7,-8.9,-8,-7.2,-6.2],
  [-4.2, -18.9,-18.1,-17.2,-16.4,-15.5,-14.7,-13.8,-13,-12.1,-11.3,-10.4,-9.6,-8.7,-7.5],
  [-4.9, -18.2,-17.4,-16.5,-15.7,-14.8,-14,-13.1,-12.3,-11.4,-10.6,-9.5],
  [-5.6, -17,-16.2,-15.3,-14.5,-13.6,-12.8,-11.5],
  [-6.3, -16.2,-15.4,-14.5,-13.7,-13]
];

function pairsToPoints(pairs) {
  return pairs.map(([x, y]) => ({ x, y }));
}

function rowsToPoints(rows) {
  return rows.flatMap(([y, ...xs]) => xs.map(x => ({ x, y })));
}

function minusSign(value) {
  return String(value).replace("-", "\u2212");
}

const frameBox = {
  id: "frameBox",
  afterDraw(chart) {
    const { ctx, chartArea: a } = chart;
    ctx.save();
    ctx.strokeStyle = "#333";
    ctx.lineWidth = 1;
    ctx.strokeRect(Math.round(a.left) + 0.5, Math.round(a.top) + 0.5, Math.round(a.width), Math.round(a.height));
    ctx.restore();
  }
};

function axis(min, max, tickValues, fitKey, fitSize) {
  return {
    type: "linear",
    min,
    max,
    afterBuildTicks: s => { s.ticks = tickValues.map(value => ({ value })); },
    afterFit: s => { s[fitKey] = fitSize; },
    border: { display: false },
    grid: { drawOnChartArea: false, color: "#333", tickLength: 4 },
    ticks: {
      autoSkip: false,
      maxRotation: 0,
      padding: 3,
      color: "#262626",
      font: { family: "'DejaVu Sans'", size: 11 },
      callback: v => minusSign(v)
    }
  };
}

function drawPanel(id, title, xRange, yRange, xTicks, yTicks, groups, box) {
  const canvas = document.getElementById(id);
  new Chart(canvas, {
    type: "scatter",
    data: {
      datasets: groups.map((points, i) => ({
        data: points,
        backgroundColor: classColors[i],
        borderWidth: 0,
        pointRadius: 4.5
      }))
    },
    options: {
      responsive: true,
      maintainAspectRatio: false,
      animation: false,
      events: [],
      layout: { padding: { left: 0, right: box.right, top: 0, bottom: 0 } },
      plugins: {
        legend: { display: false },
        tooltip: { enabled: false },
        title: {
          display: true,
          text: title,
          fullSize: false,
          color: "#111",
          font: { family: "'DejaVu Sans'", size: 14, weight: "normal" },
          padding: { top: 9, bottom: box.titleGap }
        }
      },
      scales: {
        x: axis(xRange[0], xRange[1], xTicks, "height", box.bottom),
        y: axis(yRange[0], yRange[1], yTicks, "width", box.left)
      }
    },
    plugins: [frameBox]
  });
}

drawPanel("lowChart", "AWA2:the low-relevant", [-15.66, 19], [-10.43, 23.29], lowXTicks, lowYTicks, [
  pairsToPoints(lowYellow).concat(rowsToPoints(lowYellowRows)),
  pairsToPoints(lowBlue).concat(rowsToPoints(lowBlueRows)),
  pairsToPoints(lowDark).concat(rowsToPoints(lowDarkRows))
], { left: 40, right: 14, bottom: 29, titleGap: 3.2 });

drawPanel("middleChart", "AWA2:the middle-relevant", [-15.25, 19.67], [-12.27, 23.25], middleXTicks, middleYTicks, [
  pairsToPoints(middleYellow).concat(rowsToPoints(middleYellowRows)),
  pairsToPoints(middleBlue).concat(rowsToPoints(middleBlueRows)),
  pairsToPoints(middleDark).concat(rowsToPoints(middleDarkRows))
], { left: 50, right: 3, bottom: 29, titleGap: 3.2 });

drawPanel("highChart", "AWA2:the high-relevant", [-28.24, 28.64], [-15.04, 24.7], highXTicks, highYTicks, [
  pairsToPoints(highYellow).concat(rowsToPoints(highYellowRows)),
  pairsToPoints(highBlue).concat(rowsToPoints(highBlueRows)),
  pairsToPoints(highDark).concat(rowsToPoints(highDarkRows))
], { left: 60, right: 16, bottom: 30, titleGap: 3.2 });
</script>
</body>
</html>
